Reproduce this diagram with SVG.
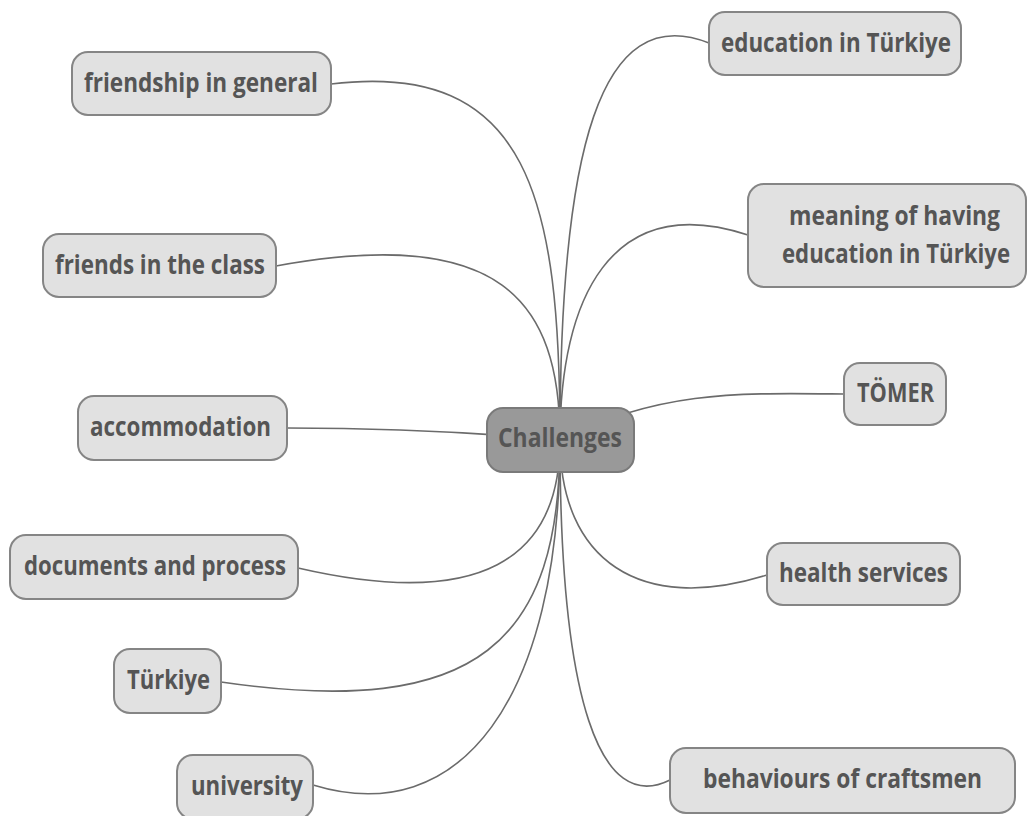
<svg xmlns="http://www.w3.org/2000/svg" width="1028" height="816" viewBox="0 0 1028 816">
<style>
.box{fill:#e1e1e1;stroke:#858585;stroke-width:2}
.root{fill:#999999;stroke:#7a7a7a;stroke-width:2}
.t{font-family:"Open Sans","DejaVu Sans",sans-serif;font-weight:700;font-size:27px;fill:#555555;text-anchor:start}
.c path{fill:none;stroke:#6b6b6b;stroke-width:1.6}
</style>
<rect width="1028" height="816" fill="#ffffff"/>
<g class="c" id="connectors">
<path d="M560,440 C560,200 530,60 331,84"/>
<path d="M560,440 C560,150 600,0 709,43"/>
<path d="M560,440 C560,300 500,225 276,266"/>
<path d="M560,440 C560,300 610,190 748,235"/>
<path d="M560,440 C660,390 740,393 844,394"/>
<path d="M560,440 C450,430 350,428 287,428"/>
<path d="M560,440 C560,560 480,610 298,568"/>
<path d="M560,440 C560,560 640,615 767,575"/>
<path d="M560,440 C560,640 480,720 221,682"/>
<path d="M560,440 C560,700 460,830 313,785"/>
<path d="M560,440 C560,700 600,815 670,780"/>
</g>
<g id="friendship"><rect class="box" x="72" y="52" width="259" height="63" rx="16"/><text class="t" x="84" y="92" textLength="234" lengthAdjust="spacingAndGlyphs">friendship in general</text></g>
<g id="education"><rect class="box" x="709" y="12" width="252" height="63" rx="16"/><text class="t" x="721" y="52" textLength="230" lengthAdjust="spacingAndGlyphs">education in Türkiye</text></g>
<g id="friends"><rect class="box" x="43" y="234" width="233" height="63" rx="16"/><text class="t" x="55" y="274" textLength="210" lengthAdjust="spacingAndGlyphs">friends in the class</text></g>
<g id="meaning"><rect class="box" x="748" y="184" width="278" height="103" rx="16"/><text class="t" x="789" y="225" textLength="211" lengthAdjust="spacingAndGlyphs">meaning of having</text><text class="t" x="782" y="263" textLength="228" lengthAdjust="spacingAndGlyphs">education in Türkiye</text></g>
<g id="tomer"><rect class="box" x="844" y="363" width="102" height="62" rx="16"/><text class="t" x="857" y="402" textLength="77" lengthAdjust="spacingAndGlyphs">TÖMER</text></g>
<g id="accommodation"><rect class="box" x="78" y="396" width="209" height="64" rx="16"/><text class="t" x="90" y="436" textLength="181" lengthAdjust="spacingAndGlyphs">accommodation</text></g>
<g id="challenges"><rect class="root" x="487" y="408" width="147" height="64" rx="16"/><text class="t" x="498" y="447" textLength="124" lengthAdjust="spacingAndGlyphs">Challenges</text></g>
<g id="documents"><rect class="box" x="10" y="535" width="288" height="64" rx="16"/><text class="t" x="24" y="575" textLength="262" lengthAdjust="spacingAndGlyphs">documents and process</text></g>
<g id="health"><rect class="box" x="767" y="543" width="193" height="62" rx="16"/><text class="t" x="779" y="582" textLength="169" lengthAdjust="spacingAndGlyphs">health services</text></g>
<g id="turkiye"><rect class="box" x="114" y="649" width="107" height="64" rx="16"/><text class="t" x="127" y="689" textLength="83" lengthAdjust="spacingAndGlyphs">Türkiye</text></g>
<g id="university"><rect class="box" x="177" y="755" width="136" height="64" rx="16"/><text class="t" x="191" y="795" textLength="112" lengthAdjust="spacingAndGlyphs">university</text></g>
<g id="behaviours"><rect class="box" x="670" y="748" width="345" height="65" rx="16"/><text class="t" x="703" y="788" textLength="279" lengthAdjust="spacingAndGlyphs">behaviours of craftsmen</text></g>
</svg>
